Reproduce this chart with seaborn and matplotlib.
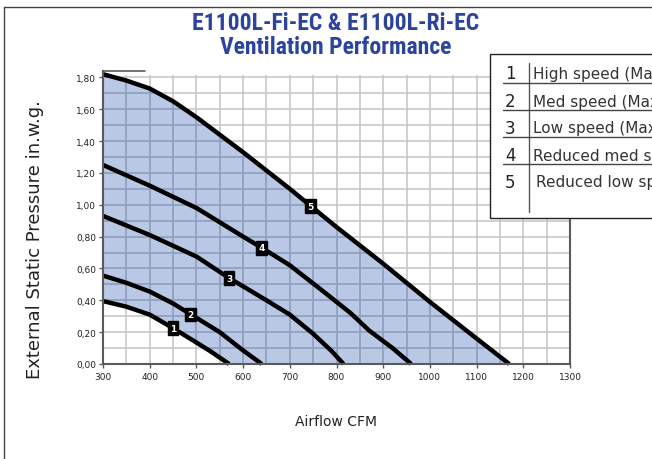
import numpy as np
import pandas as pd
import matplotlib
matplotlib.use("Agg")
import matplotlib.pyplot as plt
import seaborn as sns
from matplotlib import font_manager as fm
from matplotlib.patches import Rectangle
from matplotlib.lines import Line2D

# ---- data ----
c1_x = [300, 350, 400, 450, 500, 530, 570]
c1_y = [0.395, 0.36, 0.31, 0.225, 0.135, 0.08, 0.0]
c2_x = [300, 350, 400, 450, 500, 550, 600, 640]
c2_y = [0.555, 0.51, 0.455, 0.38, 0.29, 0.20, 0.085, 0.0]
c3_x = [300, 400, 500, 570, 650, 700, 750, 790, 815]
c3_y = [0.93, 0.81, 0.675, 0.54, 0.40, 0.31, 0.19, 0.08, 0.0]
c4_x = [300, 400, 500, 600, 640, 700, 770, 830, 870, 920, 960]
c4_y = [1.25, 1.12, 0.98, 0.80, 0.73, 0.62, 0.46, 0.32, 0.21, 0.10, 0.0]
c5_x = [300, 350, 400, 450, 500, 550, 600, 700, 800, 900, 1000, 1100, 1170]
c5_y = [1.82, 1.78, 1.73, 1.65, 1.55, 1.44, 1.33, 1.10, 0.86, 0.63, 0.39, 0.16, 0.0]
curve_ids = ["1", "2", "3", "4", "5"]
label_x = [450, 488, 570, 640, 745]
legend_labels = ["High speed (Max)", "Med speed (Max)", "Low speed (Max)",
                 "Reduced med speed", "Reduced low speed"]
x_ticks = [300, 400, 500, 600, 700, 800, 900, 1000, 1100, 1200, 1300]
y_ticks = [0.0, 0.2, 0.4, 0.6, 0.8, 1.0, 1.2, 1.4, 1.6, 1.8]
y_ticklabels = ["0,00", "0,20", "0,40", "0,60", "0,80", "1,00", "1,20", "1,40", "1,60", "1,80"]
title_lines = ["E1100L-Fi-EC & E1100L-Ri-EC", "Ventilation Performance"]
x_label = "Airflow CFM"
y_label = "External Static Pressure in.w.g."

curves_x = [c1_x, c2_x, c3_x, c4_x, c5_x]
curves_y = [c1_y, c2_y, c3_y, c4_y, c5_y]
df = pd.concat([pd.DataFrame({"cfm": cx, "pressure": cy, "curve": cid})
                for cx, cy, cid in zip(curves_x, curves_y, curve_ids)], ignore_index=True)

sns.set_style("white")
plt.rcParams['font.family'] = ['DejaVu Sans']


def find_condensed_bold():
    best = None
    for f in fm.fontManager.ttflist:
        name = (f.name + " " + str(f.fname)).lower()
        cond = ("condensed" in name or "narrow" in name) and "semi" not in name and "extra" not in name
        wt = f.weight if isinstance(f.weight, int) else {"bold": 700}.get(str(f.weight), 400)
        if cond and wt >= 600 and "italic" not in name and "oblique" not in name:
            score = 0
            for k, pref in enumerate(["liberation", "roboto", "open sans", "noto sans", "dejavu"]):
                if pref in name:
                    score = 10 - k
            if best is None or score > best[0]:
                best = (score, f.fname)
    return best[1] if best else None


cond_file = find_condensed_bold()
if cond_file:
    title_fp = fm.FontProperties(fname=cond_file, size=17)
else:
    title_fp = fm.FontProperties(family="DejaVu Sans", weight="bold", size=14)

W, H = 652, 460
fig = plt.figure(figsize=(W / 100, H / 100), dpi=100)
ax = fig.add_axes([103 / W, 1 - 365 / H, (570 - 103) / W, (365 - 72) / H])
ymax = 1.84
ax.set_xlim(300, 1300)
ax.set_ylim(0, ymax)

# base light grid
gx = np.arange(300, 1301, 50)
gy = np.arange(0.1, 1.81, 0.1)
ax.vlines(gx, 0, 1.815, color="#c8c8c8", lw=1.2, zorder=1)
ax.hlines(gy, 300, 1300, color="#c8c8c8", lw=1.2, zorder=1)

# shaded operating area
xs = np.linspace(300, 1300, 801)
low = np.interp(xs, c1_x, c1_y, right=0.0)
up = np.interp(xs, c5_x, c5_y, right=0.0)
poly = ax.fill_between(xs, low, up, where=up >= low, color="#b9c8e4", lw=0, zorder=2)
clip = poly.get_paths()[0]
v2 = ax.vlines(gx, 0, 1.815, color="#8e9dbc", lw=1.2, zorder=3)
h2 = ax.hlines(gy, 300, 1300, color="#8e9dbc", lw=1.2, zorder=3)
v2.set_clip_path(clip, ax.transData)
h2.set_clip_path(clip, ax.transData)

sns.lineplot(data=df, x="cfm", y="pressure", units="curve", estimator=None,
             color="black", lw=3.2, ax=ax, zorder=5, legend=False, sort=False)
for line in ax.get_lines():
    line.set_clip_on(False)
    line.set_solid_capstyle("butt")
    line.set_solid_joinstyle("round")

for cid, lx, cx, cy in zip(curve_ids, label_x, curves_x, curves_y):
    ly = float(np.interp(lx, cx, cy))
    ax.text(lx, ly, cid, ha="center", va="center", color="white", fontsize=6.5,
            fontweight="bold", zorder=6,
            bbox=dict(boxstyle="square,pad=0.25", fc="black", ec="black"))

# spines / ticks
for s in ["left", "bottom", "right"]:
    ax.spines[s].set_color("#5a5a5a")
    ax.spines[s].set_linewidth(1.5)
    ax.spines[s].set_zorder(7)
ax.spines["top"].set_visible(False)
ax.plot([300, 390], [ymax, ymax], color="#5a5a5a", lw=1.2, clip_on=False, zorder=7)
ax.set_xticks(x_ticks)
ax.set_xticklabels([str(t) for t in x_ticks])
ax.set_yticks(y_ticks)
ax.set_yticklabels(y_ticklabels)
ax.tick_params(axis="both", labelsize=6.5, length=3, width=1, color="#5a5a5a",
               pad=2, labelcolor="#222222", direction="out")
ax.tick_params(axis="x", pad=3)
ax.tick_params(left=True, bottom=True)
ax.set_xlabel("")
ax.set_ylabel("")

# titles and axis labels
for yy, tl in zip([23, 47], title_lines):
    fig.text(336 / W, 1 - yy / H, tl, ha="center", va="center", color="#2b44a0",
             fontproperties=title_fp)
fig.text(336 / W, 1 - 422 / H, x_label, ha="center", va="center", fontsize=10, color="#222222")
fig.text(35 / W, 1 - 240 / H, y_label, ha="center", va="center", rotation=90,
         fontsize=13, color="#222222")

# figure frame
fig.add_artist(Line2D([4 / W, 4 / W], [0, 1 - 8 / H], transform=fig.transFigure, color="#444444", lw=1))
fig.add_artist(Line2D([4 / W, 1], [1 - 8 / H, 1 - 8 / H], transform=fig.transFigure, color="#444444", lw=1))

# legend table
fig.add_artist(Rectangle((490 / W, 1 - 219 / H), 200 / W, (219 - 55) / H, transform=fig.transFigure,
                         fill=True, fc="white", ec="#222222", lw=1, zorder=10))
fig.add_artist(Line2D([529 / W, 529 / W], [1 - 213 / H, 1 - 64 / H], transform=fig.transFigure,
                      color="#555555", lw=1, zorder=11))
for yy in [84, 111, 138, 165]:
    fig.add_artist(Line2D([503 / W, 1], [1 - yy / H, 1 - yy / H], transform=fig.transFigure,
                          color="#444444", lw=1, zorder=11))
row_y = [74, 102, 129, 156, 183]
for i, (cid, lab) in enumerate(zip(curve_ids, legend_labels)):
    fig.text(510 / W, 1 - row_y[i] / H, cid, ha="center", va="center", fontsize=12,
             color="#222222", zorder=12)
    fig.text((533 if i < 4 else 536) / W, 1 - row_y[i] / H, lab, ha="left", va="center",
             fontsize=11, color="#333333", zorder=12)

fig.savefig("out.png", dpi=100)
